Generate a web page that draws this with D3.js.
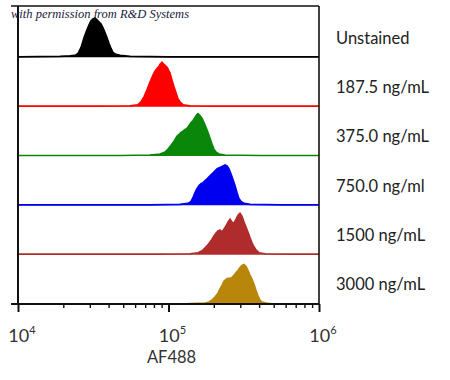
<!DOCTYPE html>
<html>
<head>
<meta charset="utf-8">
<script src="https://cdn.jsdelivr.net/npm/d3@7"></script>
<style>
  body { margin: 0; background: #fff; }
  svg { display: block; }
</style>
</head>
<body>
<div id="chart"></div>
<script>
// samples, top to bottom
const samples = ["Unstained", "187.5 ng/mL", "375.0 ng/mL", "750.0 ng/ml", "1500 ng/mL", "3000 ng/mL"];
const sampleColors = ["#000000", "#ff0000", "#0a870a", "#0000f0", "#b02c2c", "#b8860b"];

// histograms: [log10 AF488, events]
const unstained = [[4.0,5],[4.279,10],[4.346,15],[4.379,20],[4.399,40],[4.419,100],[4.439,200],[4.458,280],[4.472,330],[4.485,370],[4.498,390],[4.512,400],[4.525,380],[4.538,360],[4.551,340],[4.565,300],[4.578,250],[4.591,200],[4.605,140],[4.618,90],[4.631,50],[4.651,30],[4.678,20],[4.744,10],[5.0,5],[6.0,5]];
const conc1875 = [[4.0,5],[4.545,5],[4.744,10],[4.797,20],[4.817,50],[4.837,100],[4.857,170],[4.877,250],[4.897,320],[4.910,360],[4.924,390],[4.937,410],[4.944,430],[4.957,450],[4.963,440],[4.977,420],[4.990,400],[4.997,380],[5.010,340],[5.023,270],[5.037,200],[5.050,140],[5.063,80],[5.076,50],[5.096,20],[5.143,10],[5.276,5],[6.0,5]];
const conc375 = [[4.0,5],[4.678,5],[4.877,10],[4.944,20],[4.977,40],[4.997,70],[5.017,110],[5.037,150],[5.056,200],[5.070,220],[5.083,240],[5.096,250],[5.110,270],[5.123,280],[5.136,310],[5.150,340],[5.163,360],[5.176,390],[5.189,420],[5.196,430],[5.209,410],[5.223,380],[5.236,340],[5.249,290],[5.262,240],[5.276,180],[5.289,120],[5.302,70],[5.316,40],[5.336,20],[5.375,10],[5.608,5],[6.0,5]];
const conc750 = [[4.0,5],[4.877,5],[5.076,10],[5.130,20],[5.150,40],[5.163,80],[5.176,130],[5.189,170],[5.203,200],[5.216,220],[5.229,230],[5.243,250],[5.256,270],[5.269,290],[5.282,310],[5.296,330],[5.309,350],[5.322,370],[5.336,380],[5.349,390],[5.362,400],[5.375,410],[5.389,400],[5.402,370],[5.415,320],[5.429,260],[5.442,200],[5.455,130],[5.468,70],[5.482,40],[5.502,20],[5.542,10],[5.741,5],[6.0,5]];
const conc1500 = [[4.0,5],[4.944,5],[5.143,10],[5.196,20],[5.223,40],[5.243,70],[5.262,100],[5.282,140],[5.302,190],[5.316,220],[5.329,240],[5.342,250],[5.355,230],[5.369,260],[5.382,290],[5.395,330],[5.409,360],[5.422,330],[5.435,320],[5.449,360],[5.462,400],[5.475,420],[5.488,390],[5.502,330],[5.515,280],[5.528,230],[5.542,170],[5.555,120],[5.568,80],[5.581,50],[5.601,20],[5.641,10],[5.807,5],[6.0,5]];
const conc3000 = [[4.0,0],[5.10,0],[5.143,5],[5.243,10],[5.269,20],[5.289,40],[5.309,70],[5.329,110],[5.342,150],[5.355,190],[5.369,230],[5.382,250],[5.395,260],[5.409,260],[5.422,270],[5.435,290],[5.449,320],[5.462,340],[5.475,370],[5.488,390],[5.502,400],[5.515,380],[5.528,340],[5.542,290],[5.555,250],[5.568,200],[5.581,140],[5.595,80],[5.608,40],[5.621,20],[5.648,10],[5.70,0],[6.0,0]];
const histograms = [unstained, conc1875, conc375, conc750, conc1500, conc3000];

const majorTicks = [1e4, 1e5, 1e6];
const majorExp = ["4", "5", "6"];

const width = 450, height = 380;
const plotLeft = 18, plotRight = 319, plotTop = 6, plotBottom = 304;

const svg = d3.select("#chart").append("svg")
  .attr("width", width)
  .attr("height", height)
  .style("font-family", "Lato, 'Open Sans', sans-serif");

const x = d3.scaleLog().domain([1e4, 1e6]).range([plotLeft, plotRight]);

const lanes = d3.scaleBand().domain(samples).range([8, plotBottom]);

const y = d3.scaleLinear().domain([0, 500]).range([0, lanes.bandwidth()]);

// histograms
samples.forEach((s, i) => {
  const base = lanes(s) + lanes.bandwidth();
  const area = d3.area()
    .x(d => x(Math.pow(10, d[0])))
    .y0(base)
    .y1(d => base - y(d[1]));
  const line = d3.line()
    .x(d => x(Math.pow(10, d[0])))
    .y(d => base - y(d[1]));
  svg.append("path")
    .datum(histograms[i])
    .attr("d", area)
    .attr("fill", sampleColors[i]);
  svg.append("path")
    .datum(histograms[i])
    .attr("d", line)
    .attr("fill", "none")
    .attr("stroke", sampleColors[i])
    .attr("stroke-width", 1.6);
});

// frame
svg.append("line").attr("x1", 11).attr("x2", plotRight).attr("y1", plotTop).attr("y2", plotTop)
  .attr("stroke", "#111").attr("stroke-width", 1.6);
svg.append("line").attr("x1", plotRight).attr("x2", plotRight).attr("y1", plotTop).attr("y2", plotBottom)
  .attr("stroke", "#111").attr("stroke-width", 1.6);
svg.append("line").attr("x1", plotLeft).attr("x2", plotLeft).attr("y1", plotTop).attr("y2", plotBottom)
  .attr("stroke", "#111").attr("stroke-width", 2);

// x axis
const minor = x.ticks().filter(t => !majorTicks.includes(t));
const gMinor = svg.append("g")
  .attr("transform", `translate(0,${plotBottom})`)
  .call(d3.axisBottom(x).tickValues(minor).tickSize(4).tickFormat(""));
gMinor.select(".domain").remove();
gMinor.selectAll("line").attr("stroke", "#111").attr("stroke-width", 1.4);

const gMajor = svg.append("g")
  .attr("transform", `translate(0,${plotBottom})`)
  .call(d3.axisBottom(x).tickValues(majorTicks).tickSize(8).tickFormat(""));
gMajor.select(".domain").remove();
gMajor.selectAll("line").attr("stroke", "#111").attr("stroke-width", 2);

svg.append("line").attr("x1", 11).attr("x2", plotRight).attr("y1", plotBottom).attr("y2", plotBottom)
  .attr("stroke", "#111").attr("stroke-width", 2);

// tick labels 10^n
majorTicks.forEach((t, i) => {
  const tx = svg.append("text")
    .attr("x", x(t) + 4)
    .attr("y", 342)
    .attr("text-anchor", "middle")
    .attr("fill", "#333")
    .style("font-size", "18px");
  tx.append("tspan").text("10");
  tx.append("tspan").text(majorExp[i]).attr("dy", -8).style("font-size", "11px");
});

svg.append("text")
  .attr("x", x(1e5) + 3)
  .attr("y", 363)
  .attr("text-anchor", "middle")
  .attr("fill", "#333")
  .style("font-size", "16.5px")
  .text("AF488");

// sample labels
svg.selectAll(".lab")
  .data(samples)
  .enter()
  .append("text")
  .attr("x", 336)
  .attr("y", d => lanes(d) + lanes.bandwidth() / 2 + 11)
  .attr("fill", "#222")
  .style("font-size", "16.5px")
  .text(d => d);

// watermark
svg.append("text")
  .attr("x", 11)
  .attr("y", 18)
  .attr("fill", "#1a1a3a")
  .style("font-family", "'Liberation Serif', serif")
  .style("font-style", "italic")
  .style("font-size", "12.5px")
  .text("with permission from R&D Systems");
</script>
</body>
</html>
